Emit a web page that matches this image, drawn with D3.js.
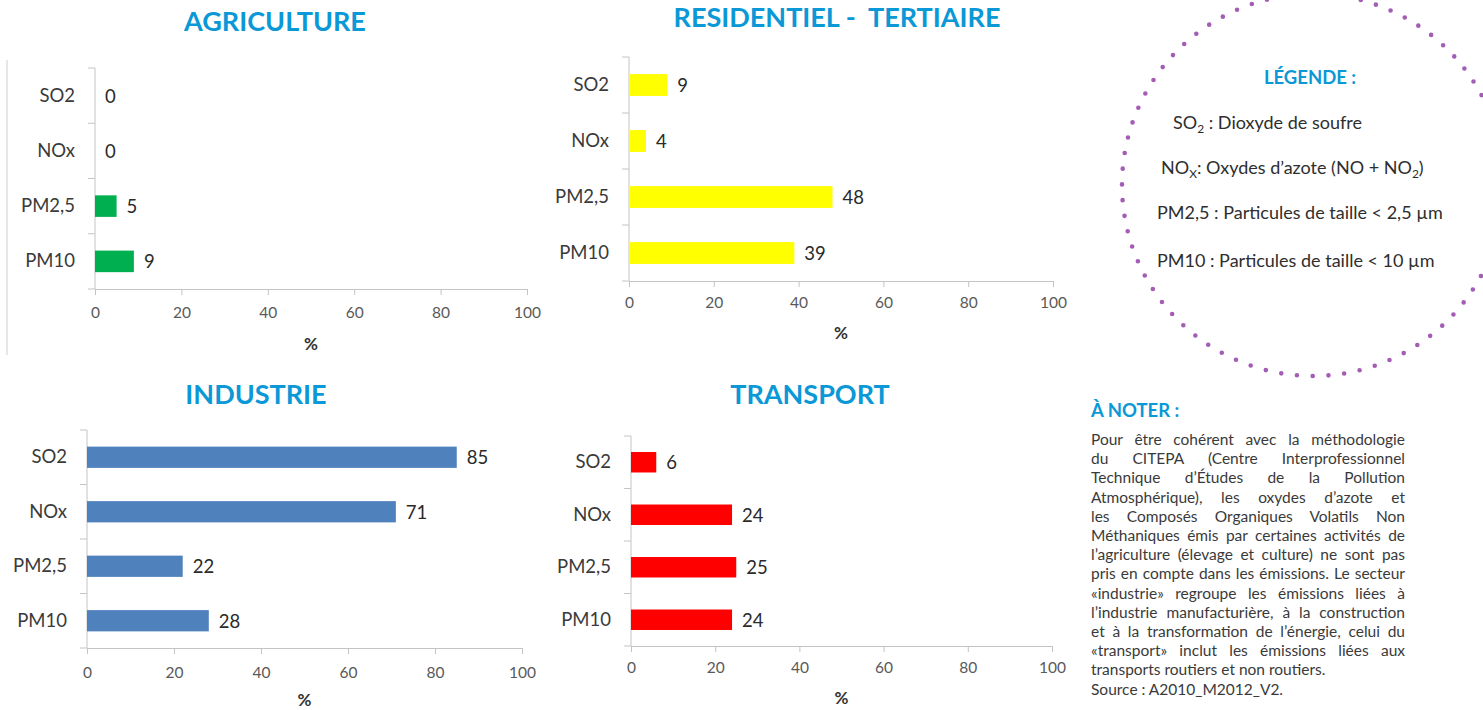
<!DOCTYPE html>
<meta charset="utf-8">
<script src="https://d3js.org/d3.v7.min.js"></script>
<style>
  body { margin: 0; background: #fff; font-family: Lato, sans-serif; }
  #wrap { position: relative; width: 1483px; height: 710px; overflow: hidden; }
  #note { position: absolute; left: 1091px; top: 430px; width: 314px;
          font-size: 15.5px; line-height: 19.2px; color: #3a3a3a; }
  #note div { text-align: justify; text-align-last: justify; white-space: nowrap; }
  #note div.last { text-align-last: left; }
</style>
<body>
<div id="wrap">
  <svg id="chart" width="1483" height="710"></svg>
  <div id="note"></div>
</div>

<script>
// data
var pollutants = ["SO2", "NOx", "PM2,5", "PM10"];
var agriculture = [0, 0, 5, 9];
var residentiel = [9, 4, 48, 39];
var industrie = [85, 71, 22, 28];
var transport = [6, 24, 25, 24];
var xTicks = [0, 20, 40, 60, 80, 100];

var legendItems = [
  {name: "SO", sub: "2", rest: " : Dioxyde de soufre"},
  {name: "NO", sub: "X", rest: ": Oxydes d\u2019azote (NO + NO", sub2: "2", end: ")"},
  {name: "PM2,5 : Particules de taille < 2,5 \u00b5m"},
  {name: "PM10 : Particules de taille < 10 \u00b5m"}
];

var noteLines = [
  "Pour être cohérent avec la méthodologie",
  "du CITEPA (Centre Interprofessionnel",
  "Technique d’Études de la Pollution",
  "Atmosphérique), les oxydes d’azote et",
  "les Composés Organiques Volatils Non",
  "Méthaniques émis par certaines activités de",
  "l’agriculture (élevage et culture) ne sont pas",
  "pris en compte dans les émissions. Le secteur",
  "«industrie» regroupe les émissions liées à",
  "l’industrie manufacturière, à la construction",
  "et à la transformation de l’énergie, celui du",
  "«transport» inclut les émissions liées aux",
  "transports routiers et non routiers.",
  "Source : A2010_M2012_V2."
];

// panel layout
var panels = [
  {title: "AGRICULTURE", values: agriculture, color: "#00b050",
   x0: 95, x1: 527, yTop: 68, yBot: 289, tx: 275, ty: 20, tickOff: 24, pctY: 343},
  {title: "RESIDENTIEL -  TERTIAIRE", values: residentiel, color: "#ffff00",
   x0: 629, x1: 1053, yTop: 57, yBot: 281, tx: 837, ty: 16, tickOff: 22, pctY: 332},
  {title: "INDUSTRIE", values: industrie, color: "#4f81bd",
   x0: 87, x1: 522, yTop: 430, yBot: 648, tx: 256, ty: 393, tickOff: 25, pctY: 699},
  {title: "TRANSPORT", values: transport, color: "#ff0000",
   x0: 631, x1: 1052, yTop: 436, yBot: 646, tx: 810, ty: 393, tickOff: 22, pctY: 697}
];

var svg = d3.select("#chart");
var blue = "#0a98d6";
var axisColor = "#c4c4c4";

// thin frame line on the left of the first chart
svg.append("line")
  .attr("x1", 7).attr("x2", 7).attr("y1", 60).attr("y2", 355)
  .attr("stroke", "#cfcfcf").attr("stroke-width", 1);

panels.forEach(function(p) {
  var g = svg.append("g");

  g.append("text")
    .attr("x", p.tx).attr("y", p.ty)
    .attr("text-anchor", "middle").attr("dominant-baseline", "central")
    .style("white-space", "pre")
    .style("font-family", "Lato").style("font-weight", 700)
    .style("font-size", "27px").attr("fill", blue)
    .text(p.title);

  var x = d3.scaleLinear().domain([0, 100]).range([p.x0, p.x1]);
  var y = d3.scaleBand().domain(pollutants).range([p.yTop, p.yBot]);

  // x axis
  var xa = g.append("g")
    .attr("transform", "translate(0," + p.yBot + ")")
    .call(d3.axisBottom(x).tickValues(xTicks).tickSize(6).tickPadding(p.tickOff - 11.6));
  xa.selectAll("path, line").attr("stroke", axisColor);
  xa.selectAll("text").style("font-family", "Lato").style("font-size", "15.5px").attr("fill", "#595959");

  // y axis: labels, line, ticks at band boundaries
  var ya = g.append("g")
    .attr("transform", "translate(" + p.x0 + ",0)")
    .call(d3.axisLeft(y).tickSize(0).tickPadding(20));
  ya.select(".domain").remove();
  ya.selectAll("text").style("font-family", "Lato").style("font-size", "18.5px").attr("fill", "#3a3a3a");

  g.append("line")
    .attr("x1", p.x0).attr("x2", p.x0).attr("y1", p.yTop).attr("y2", p.yBot)
    .attr("stroke", axisColor);
  var bounds = pollutants.map(function(c) { return y(c); }).concat([p.yBot]);
  g.selectAll(".btick").data(bounds).enter().append("line")
    .attr("x1", p.x0 - 7).attr("x2", p.x0)
    .attr("y1", function(d) { return d; }).attr("y2", function(d) { return d; })
    .attr("stroke", axisColor);

  // bars
  var bh = y.bandwidth() * 0.39;
  g.selectAll(".bar").data(p.values).enter().append("rect")
    .attr("x", x(0))
    .attr("y", function(d, i) { return y(pollutants[i]) + y.bandwidth() / 2 - bh / 2; })
    .attr("width", function(d) { return x(d) - x(0); })
    .attr("height", bh)
    .attr("fill", p.color);

  // value labels
  g.selectAll(".val").data(p.values).enter().append("text")
    .attr("x", function(d) { return x(d) + 10; })
    .attr("y", function(d, i) { return y(pollutants[i]) + y.bandwidth() / 2; })
    .attr("dominant-baseline", "central")
    .style("font-family", "Lato").style("font-size", "18.5px").attr("fill", "#2a2a2a")
    .text(function(d) { return d; });

  g.append("text")
    .attr("x", (p.x0 + p.x1) / 2).attr("y", p.pctY)
    .attr("text-anchor", "middle").attr("dominant-baseline", "central")
    .style("font-family", "Lato").style("font-weight", 700).style("font-size", "17px")
    .attr("fill", "#333")
    .text("%");
});

// legend: dotted circle
svg.append("circle")
  .attr("cx", 1313).attr("cy", 185).attr("r", 191)
  .attr("fill", "none").attr("stroke", "#a45db5")
  .attr("stroke-width", 4.6).attr("stroke-linecap", "round")
  .attr("stroke-dasharray", "0 15.8");

svg.append("text")
  .attr("x", 1310).attr("y", 77)
  .attr("text-anchor", "middle").attr("dominant-baseline", "central")
  .style("font-family", "Lato").style("font-weight", 700).style("font-size", "18.5px")
  .attr("fill", blue).text("LÉGENDE :");

var legX = [1173, 1161, 1157, 1157];
var legY = [122, 167, 212, 260];
legendItems.forEach(function(it, i) {
  var t = svg.append("text")
    .attr("x", legX[i]).attr("y", legY[i] + 6.5)
    .style("font-family", "Lato").style("font-size", "18px").attr("fill", "#2e2e2e");
  t.append("tspan").text(it.name);
  if (it.sub) {
    t.append("tspan").attr("dy", 4).style("font-size", "12px").text(it.sub);
    t.append("tspan").attr("dy", -4).text(it.rest);
  }
  if (it.sub2) {
    t.append("tspan").attr("dy", 4).style("font-size", "12px").text(it.sub2);
    t.append("tspan").attr("dy", -4).text(it.end);
  }
});

// note
svg.append("text")
  .attr("x", 1091).attr("y", 410)
  .attr("dominant-baseline", "central")
  .style("font-family", "Lato").style("font-weight", 700).style("font-size", "18.5px")
  .attr("fill", blue).text("À NOTER :");

d3.select("#note").selectAll("div").data(noteLines).enter().append("div")
  .classed("last", function(d, i) { return i >= noteLines.length - 2; })
  .text(function(d) { return d; });
</script>
</body>
